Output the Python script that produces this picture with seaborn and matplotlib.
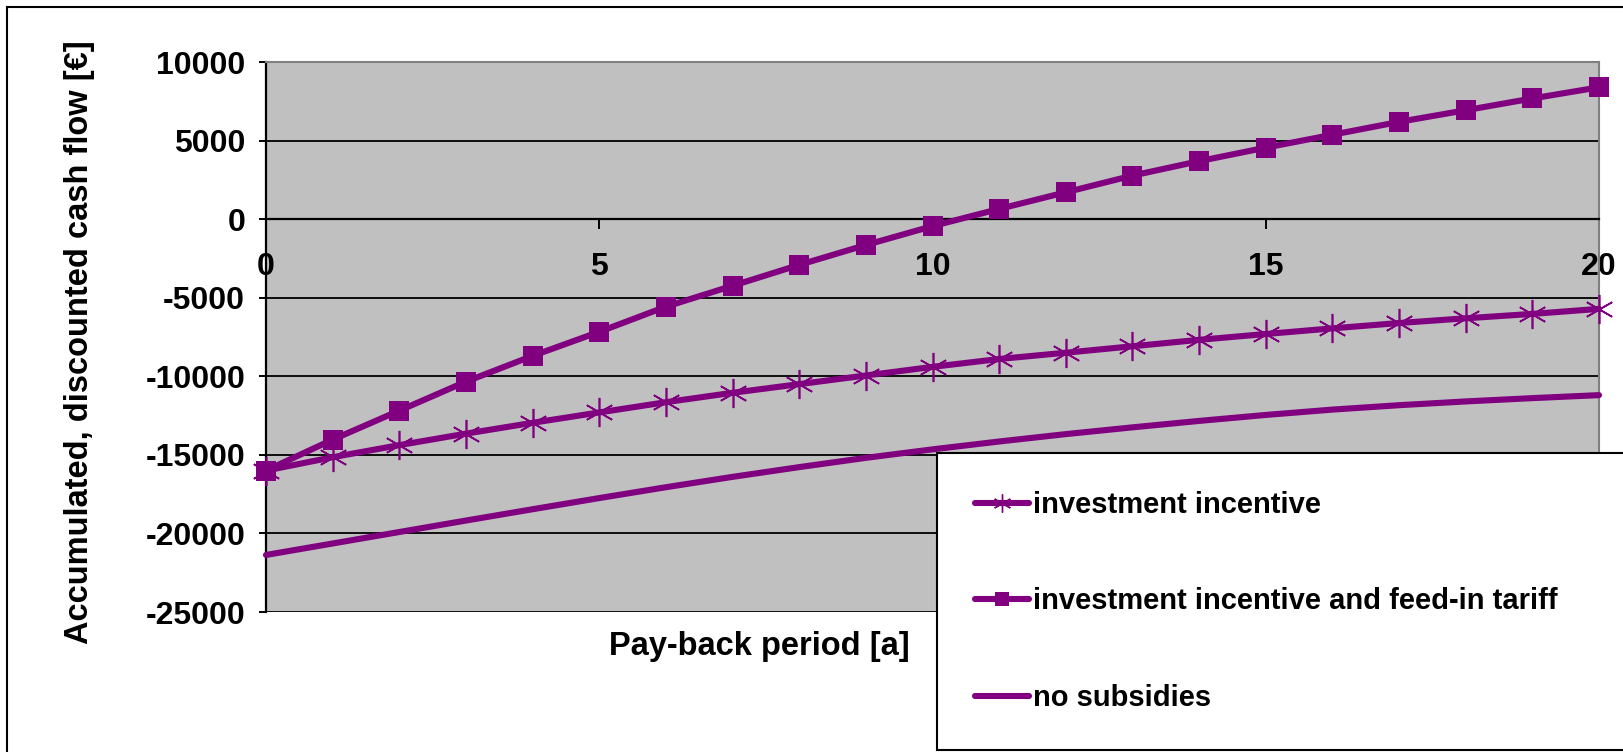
import matplotlib
matplotlib.use("Agg")
import matplotlib.pyplot as plt
from matplotlib.patches import Rectangle
from matplotlib.lines import Line2D
import seaborn as sns

# ---- data ----
years = list(range(0, 21))
incentive = [-16000, -15150, -14380, -13650, -12960, -12300, -11650, -11050, -10500, -9950,
             -9400, -8900, -8500, -8090, -7680, -7310, -6950, -6610, -6310, -6030, -5710]
incentive_tariff = [-16000, -14030, -12185, -10340, -8700, -7170, -5570, -4240, -2910, -1645,
                    -445, 650, 1710, 2770, 3690, 4550, 5370, 6190, 6930, 7680, 8390]
no_subsidies = [-21370, -20640, -19910, -19180, -18460, -17750, -17060, -16400, -15780, -15190,
                -14650, -14150, -13680, -13250, -12840, -12460, -12120, -11840, -11600, -11390, -11200]
series_labels = ["investment incentive", "investment incentive and feed-in tariff", "no subsidies"]
x_ticks = [0, 5, 10, 15, 20]
y_ticks = [10000, 5000, 0, -5000, -10000, -15000, -20000, -25000]
x_label = "Pay-back period [a]"
y_label = "Accumulated, discounted cash flow [€]"

# ---- style ----
sns.set_style("white")
plt.rcParams['font.family'] = ['Liberation Sans', 'DejaVu Sans']
plt.rcParams['font.weight'] = 'bold'
for k in ('text.color', 'axes.labelcolor', 'xtick.color', 'ytick.color',
          'xtick.labelcolor', 'ytick.labelcolor'):
    plt.rcParams[k] = 'black'

PURPLE = "#800080"
W, H = 1623, 752
fig = plt.figure(figsize=(W / 100, H / 100), dpi=100)
fig.patch.set_facecolor("white")

left, right, top, bottom = 266, 1599, 62, 612
ax = fig.add_axes([left / W, 1 - bottom / H, (right - left) / W, (bottom - top) / H])
ax.set_facecolor("#C0C0C0")

lw = 4.4
sns.lineplot(x=years, y=incentive, ax=ax, color=PURPLE, lw=lw, marker=(6, 2, 0),
             markersize=21, markeredgewidth=1.2, markeredgecolor=PURPLE,
             markerfacecolor=PURPLE, clip_on=False, zorder=3)
sns.lineplot(x=years, y=incentive_tariff, ax=ax, color=PURPLE, lw=lw, marker="s",
             markersize=14.5, markeredgewidth=0, markerfacecolor=PURPLE, clip_on=False, zorder=4)
sns.lineplot(x=years, y=no_subsidies, ax=ax, color=PURPLE, lw=lw, clip_on=False, zorder=3)

ax.spines['bottom'].set_position(('data', 0))
ax.spines['bottom'].set_color('black')
ax.spines['bottom'].set_linewidth(1.6)
ax.spines['left'].set_color('black')
ax.spines['left'].set_linewidth(1.6)
for s in ('top', 'right'):
    ax.spines[s].set_color('#808080')
    ax.spines[s].set_linewidth(1.5)
    ax.spines[s].set_visible(True)

ax.set_xlim(0, 20)
ax.set_ylim(-25000, 10000)
ax.set_xticks(x_ticks)
ax.set_yticks(y_ticks)
ax.set_xticklabels([str(t) for t in x_ticks])
ax.set_yticklabels([str(t) for t in y_ticks])
for lab in ax.get_xticklabels() + ax.get_yticklabels():
    lab.set_fontweight('bold')

ax.grid(axis='y', color='black', lw=1.3, zorder=1)
ax.grid(axis='x', visible=False)
ax.set_axisbelow(True)

ax.tick_params(axis='x', direction='out', length=7, width=1.4, pad=17, color='black',
               bottom=True, labelsize=23, labelcolor='black')
ax.tick_params(axis='y', direction='out', length=5, width=1.4, pad=10, color='black',
               left=True, labelsize=23, labelcolor='black')

ax.set_xlabel(x_label, fontsize=23.5, fontweight='bold', color='black')
ax.set_ylabel(y_label, fontsize=23.5, fontweight='bold', color='black')
ax.xaxis.set_label_coords((759 - left) / (right - left), (bottom - 646) / (bottom - top))
ax.xaxis.label.set_va('center')
ax.yaxis.set_label_coords((80 - left) / (right - left), 0.49)
ax.yaxis.label.set_va('center')

# legend
handles = [
    Line2D([], [], color=PURPLE, lw=lw, marker=(6, 2, 0), markersize=13, markeredgewidth=1.0,
           markeredgecolor=PURPLE, solid_capstyle='round'),
    Line2D([], [], color=PURPLE, lw=lw, marker='s', markersize=10, markeredgewidth=0,
           solid_capstyle='round'),
    Line2D([], [], color=PURPLE, lw=lw, solid_capstyle='round'),
]
if ax.get_legend() is not None:
    ax.get_legend().remove()
leg = ax.legend(handles, series_labels, loc='upper left',
                bbox_to_anchor=(937 / W, 0.0, 0.6, 1 - 453 / H),
                bbox_transform=fig.transFigure, mode='expand',
                frameon=True, fancybox=False, framealpha=1, edgecolor='black',
                prop={'size': 21, 'weight': 'bold', 'family': 'Liberation Sans'},
                borderpad=1.3, labelspacing=2.35, handlelength=1.85, handletextpad=0.15,
                borderaxespad=0)
leg.get_frame().set_linewidth(1.5)
leg.set_zorder(10)
for t in leg.get_texts():
    t.set_color('black')

# outer chart border
fig.add_artist(Rectangle((7 / W, -0.1), 2.0, 1.1 - 7 / H, transform=fig.transFigure,
                         fill=False, edgecolor='black', lw=1.5))

fig.savefig("out.png", dpi=100)
